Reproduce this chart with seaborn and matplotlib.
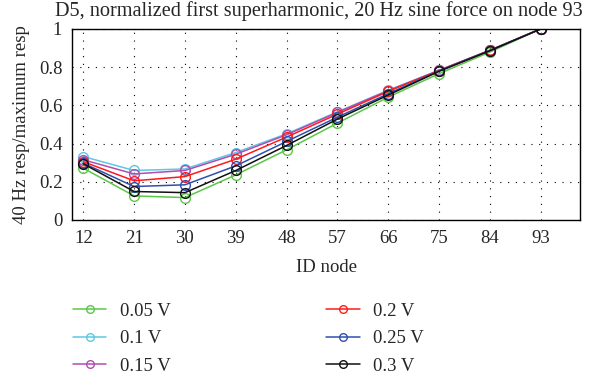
import seaborn as sns
import matplotlib.pyplot as plt
import numpy as np
import pandas as pd
from matplotlib.lines import Line2D

# node IDs on the x axis
nodes = [12, 21, 30, 39, 48, 57, 66, 75, 84, 93]

# normalized 40 Hz response per force amplitude
v005 = [0.271, 0.126, 0.117, 0.236, 0.367, 0.507, 0.643, 0.766, 0.879, 1.0]
v010 = [0.332, 0.259, 0.267, 0.353, 0.451, 0.566, 0.679, 0.784, 0.889, 1.0]
v015 = [0.315, 0.241, 0.259, 0.344, 0.446, 0.563, 0.677, 0.783, 0.888, 1.0]
v020 = [0.305, 0.205, 0.227, 0.318, 0.434, 0.554, 0.673, 0.782, 0.888, 1.0]
v025 = [0.297, 0.175, 0.184, 0.283, 0.411, 0.538, 0.661, 0.780, 0.887, 1.0]
v030 = [0.294, 0.149, 0.143, 0.259, 0.390, 0.528, 0.654, 0.778, 0.886, 1.0]

labels = ['0.05 V', '0.1 V', '0.15 V', '0.2 V', '0.25 V', '0.3 V']
colors = ['#5cc648', '#5cc8e2', '#b24cb0', '#ff1a1a', '#2f4fb0', '#111111']
series = [v005, v010, v015, v020, v025, v030]

rows = []
for lab, vals in zip(labels, series):
    for n, v in zip(nodes, vals):
        rows.append({'node': n, 'resp': v, 'amp': lab})
df = pd.DataFrame(rows)

sns.set_style('white')
plt.rcParams['font.family'] = ['Liberation Serif', 'DejaVu Serif']

fig = plt.figure(figsize=(6, 3.76), dpi=100)
ax = fig.add_axes([0.12, 0.415, 0.847, 0.508])

sns.lineplot(data=df, x='node', y='resp', hue='amp', hue_order=labels,
             palette=colors, marker='o', markersize=7, markerfacecolor='none',
             markeredgewidth=1.0, linewidth=1.1, ax=ax, legend=False)

# recolor marker edges to match lines
for line in ax.get_lines():
    line.set_markeredgecolor(line.get_color())

ax.set_xlim(10, 100)
ax.set_ylim(0, 1)
ax.set_xticks(nodes)
ax.set_yticks(np.arange(0, 1.01, 0.2))
ax.set_yticklabels(['0', '0.2', '0.4', '0.6', '0.8', '1'])
ax.grid(True, color='black', linestyle=(0, (1, 6)), linewidth=0.8)
for s in ax.spines.values():
    s.set_color('black')
    s.set_linewidth(1.0)
ax.tick_params(labelsize=13.5, length=0, pad=7)

ax.set_xlabel('ID node', fontsize=13.5, labelpad=9)
ax.set_ylabel('40 Hz resp/maximum resp', fontsize=13.5, labelpad=6)
ax.set_title('D5, normalized first superharmonic, 20 Hz sine force on node 93',
             fontsize=14.6, pad=9, x=0.485)

handles = [Line2D([], [], color=c, marker='o', markerfacecolor='none',
                  markersize=5.5, linewidth=1.1) for c in colors]
fig.legend(handles, labels, loc='upper left', bbox_to_anchor=(0.093, 0.24),
           ncol=2, frameon=False, fontsize=13.5, columnspacing=8.3,
           handlelength=1.8, handletextpad=0.7, labelspacing=0.55)

fig.savefig('out.png', dpi=100)
